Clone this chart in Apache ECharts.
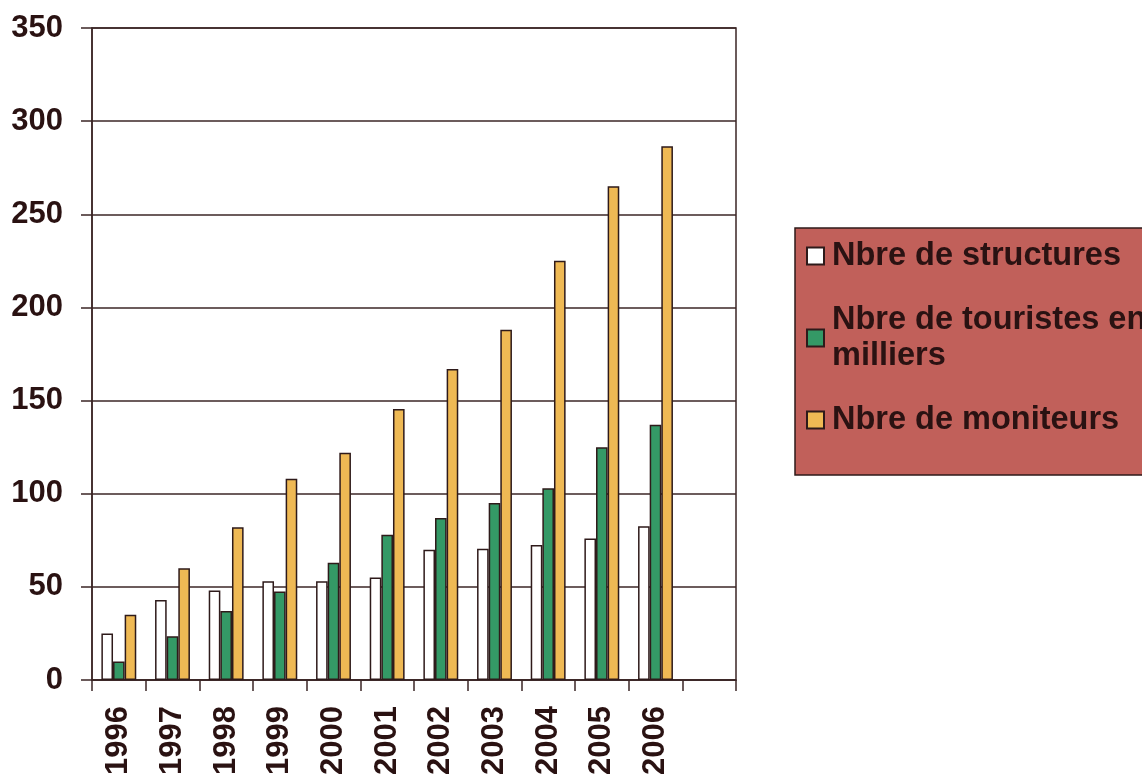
<!DOCTYPE html>
<html>
<head>
<meta charset="utf-8">
<script src="https://cdn.jsdelivr.net/npm/echarts@6/dist/echarts.min.js"></script>
<style>
html,body{margin:0;padding:0;background:#fff;}
#chart{width:1142px;height:778px;}
</style>
</head>
<body>
<div id="chart"></div>
<script>
const categories = ['1996','1997','1998','1999','2000','2001','2002','2003','2004','2005','2006',''];
const structures = [25, 43, 48, 53, 53, 55, 70, 70.5, 72.5, 76, 82.5];
const touristes = [10, 23.5, 37, 47.5, 63, 78, 87, 95, 103, 125, 137];
const moniteurs = [35, 60, 82, 108, 122, 145.5, 167, 188, 225, 265, 286.5];
const seriesNames = ['Nbre de structures', 'Nbre de touristes en milliers', 'Nbre de moniteurs'];
const seriesColors = ['#ffffff', '#349966', '#efb954'];

const txt = '#2a1212';
const line = '#3b2626';
const font = '"Liberation Sans", Arial, sans-serif';
const fs = 31;
const lfs = 32.5;

const chart = echarts.init(document.getElementById('chart'), null, {renderer: 'canvas'});

function legendFor(i, top, extra) {
  return Object.assign({
    data: [seriesNames[i]],
    left: 806,
    top: top,
    padding: 0,
    icon: 'rect',
    itemWidth: 17,
    itemHeight: 17,
    selectedMode: false,
    textStyle: {
      color: txt, fontSize: lfs, fontWeight: 'bold', fontFamily: font,
      lineHeight: 36, padding: [0, 0, 0, 3]
    }
  }, extra || {});
}

const option = {
  animation: false,
  backgroundColor: '#ffffff',
  grid: {
    left: 92, right: 406, top: 28, bottom: 96,
    show: true, borderColor: line, borderWidth: 1.5, backgroundColor: 'transparent'
  },
  graphic: [{
    type: 'rect', z: -1,
    shape: {x: 795, y: 228, width: 370, height: 247},
    style: {fill: '#c1605a', stroke: '#2e1a1a', lineWidth: 1.5}
  }],
  legend: [
    legendFor(0, 238),
    legendFor(1, 284, {
      formatter: function () { return 'Nbre de touristes en\nmilliers'; },
      textStyle: {
        color: txt, fontSize: lfs, fontWeight: 'bold', fontFamily: font,
        lineHeight: 36, padding: [36, 0, 0, 3]
      }
    }),
    legendFor(2, 402)
  ],
  xAxis: {
    type: 'category',
    data: categories,
    boundaryGap: true,
    axisLine: {show: true, lineStyle: {color: line, width: 1.5}},
    axisTick: {show: true, interval: 0, length: 11, lineStyle: {color: line, width: 1.5}},
    axisLabel: {
      interval: 0, rotate: 90, margin: 26,
      color: txt, fontSize: fs, fontWeight: 'bold', fontFamily: font
    },
    splitLine: {show: false}
  },
  yAxis: {
    type: 'value',
    min: 0, max: 350, interval: 50,
    axisLine: {show: true, lineStyle: {color: line, width: 1.5}},
    axisTick: {show: true, length: 11, lineStyle: {color: line, width: 1.5}},
    axisLabel: {margin: 29, color: txt, fontSize: fs, fontWeight: 'bold', fontFamily: font},
    splitLine: {show: true, lineStyle: {color: line, width: 1.5}}
  },
  series: [structures, touristes, moniteurs].map(function (d, i) {
    return {
      name: seriesNames[i],
      type: 'bar',
      data: d,
      barGap: '0%',
      barCategoryGap: '35%',
      itemStyle: {color: seriesColors[i], borderColor: '#2e1a1a', borderWidth: 1.5}
    };
  })
};
chart.setOption(option);
</script>
</body>
</html>
